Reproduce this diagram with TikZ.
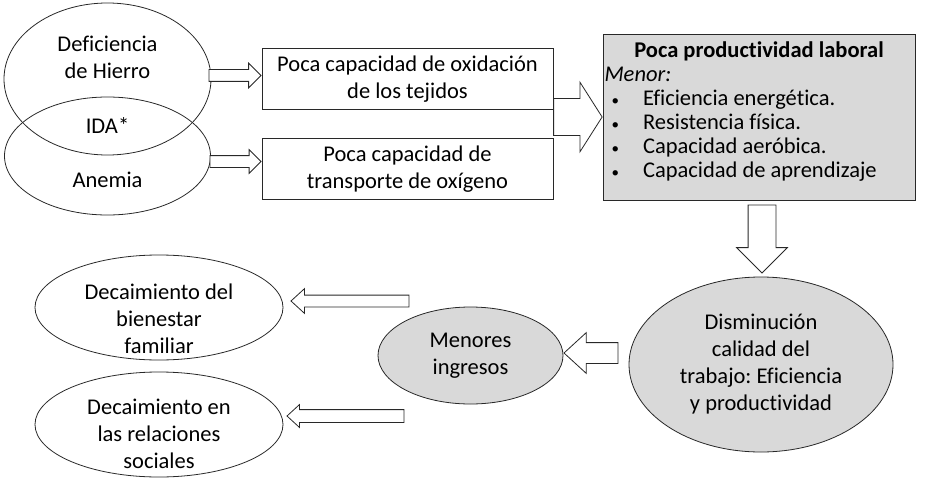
\documentclass[tikz,border=0pt]{standalone}
\usepackage{fontspec}
\setmainfont[Ligatures={TeX,NoCommon}]{Carlito}
\frenchspacing
\usetikzlibrary{
    shapes.geometric,
    shapes.arrows,
    positioning,
    calc
}
\definecolor{boxgray}{RGB}{217,217,217}
\definecolor{linedark}{RGB}{40,40,40}

\begin{document}
\begin{tikzpicture}[
    node distance=90pt,
    font=\fontsize{22.5}{27}\selectfont,
    box/.style={rectangle, draw=linedark, line width=0.8pt, minimum width=291pt, minimum height=61pt, align=center, fill=white},
    oval/.style={ellipse, draw=linedark, line width=0.8pt, align=center, inner sep=0pt},
    grayoval/.style={oval, fill=boxgray},
    txt/.style={align=center, inner sep=0pt},
    barrow/.style={single arrow, draw=linedark, line width=0.8pt, fill=white, minimum width=0pt}
]
    \useasboundingbox (0,0) rectangle (925pt,-484pt);

    \node[oval, minimum width=207pt, minimum height=152pt] (hierro) at (107.5pt,-79pt) {};
    \node[oval, minimum width=206pt, minimum height=118pt] (anemia) [below of=hierro, yshift=13pt] {};
    \node[txt] (hierrotxt) at ([yshift=21.5pt]hierro.center) {Deficiencia\\de Hierro};
    \node[txt] (ida) at ($(hierro.south)!0.5!(anemia.north)$) {IDA*};
    \node[txt] (anemiatxt) at ([yshift=-24pt]anemia.center) {Anemia};

    \node[box] (oxid) [right of=hierro, xshift=210pt] {Poca capacidad de oxidación\\de los tejidos};
    \node[box] (transp) [below of=oxid] {Poca capacidad de\\transporte de oxígeno};

    \node[rectangle, draw=linedark, line width=0.8pt, fill=boxgray, minimum width=312pt, minimum height=166pt,
          text width=309pt, inner xsep=1.5pt, inner ysep=0pt, text height=24pt, text depth=142pt, align=flush left,
          font=\fontsize{22.5}{24}\selectfont] (prod) [right of=oxid, xshift=261.5pt, yshift=-38pt]
        {\makebox[309pt]{\bfseries Poca productividad laboral}\\
         \textit{Menor:}\\
         \makebox[38.5pt][l]{\hspace{7pt}{\fontsize{15}{15}\selectfont\textbullet}}Eficiencia energética.\\
         \makebox[38.5pt][l]{\hspace{7pt}{\fontsize{15}{15}\selectfont\textbullet}}Resistencia física.\\
         \makebox[38.5pt][l]{\hspace{7pt}{\fontsize{15}{15}\selectfont\textbullet}}Capacidad aeróbica.\\
         \makebox[38.5pt][l]{\hspace{7pt}{\fontsize{15}{15}\selectfont\textbullet}}Capacidad de aprendizaje};

    \node[grayoval, minimum width=264pt, minimum height=175pt] (dism) [below of=prod, xshift=2pt, yshift=-157.5pt]
        {Disminución\\calidad del\\trabajo: Eficiencia\\y productividad};
    \node[grayoval, minimum width=185pt, minimum height=97pt] (ingr) [left of=dism, xshift=-200.5pt, yshift=9pt]
        {Menores\\ingresos};

    \node[oval, minimum width=248pt, minimum height=105pt] (bien) [left of=ingr, xshift=-221.5pt, yshift=48pt] {};
    \node[oval, minimum width=248pt, minimum height=105pt] (soc) [below of=bien, yshift=-27pt] {};
    \node[txt] (bientxt) at ([yshift=-11pt]bien.center) {Decaimiento del\\bienestar\\familiar};
    \node[txt] (soctxt) at ([yshift=-9pt]soc.center) {Decaimiento en\\las relaciones\\sociales};

    % block arrows
    \node[barrow, inner sep=5.5pt, single arrow head extend=6.5pt, minimum height=52pt, anchor=tip] (ar1) at ([yshift=3.5pt]oxid.west) {};
    \node[barrow, inner sep=5.5pt, single arrow head extend=6pt, minimum height=51pt, anchor=tip] (ar2) at ([yshift=7.5pt]transp.west) {};
    \node[barrow, inner sep=18pt, single arrow head extend=16.5pt, single arrow tip angle=115, minimum height=46pt, anchor=tip] (ar3) at (prod.west) {};
    \node[barrow, inner sep=13.5pt, single arrow head extend=11.5pt, shape border rotate=270, minimum height=68pt, anchor=tip] (ar4) at ([xshift=1pt, yshift=3pt]dism.north) {};
    \node[barrow, inner sep=10pt, single arrow head extend=10pt, single arrow tip angle=85, shape border rotate=180, minimum height=54pt, anchor=tip] (ar5) at ([yshift=2.5pt]ingr.east) {};
    \node[barrow, inner sep=5.5pt, single arrow head extend=6.5pt, single arrow tip angle=85, shape border rotate=180, minimum height=118pt, anchor=tip] (ar6) at ([xshift=7pt, yshift=6.5pt]bien.east) {};
    \node[barrow, inner sep=6pt, single arrow head extend=5pt, single arrow tip angle=85, shape border rotate=180, minimum height=117pt, anchor=tip] (ar7) at ([xshift=3pt, yshift=8.5pt]soc.east) {};
\end{tikzpicture}
\end{document}
